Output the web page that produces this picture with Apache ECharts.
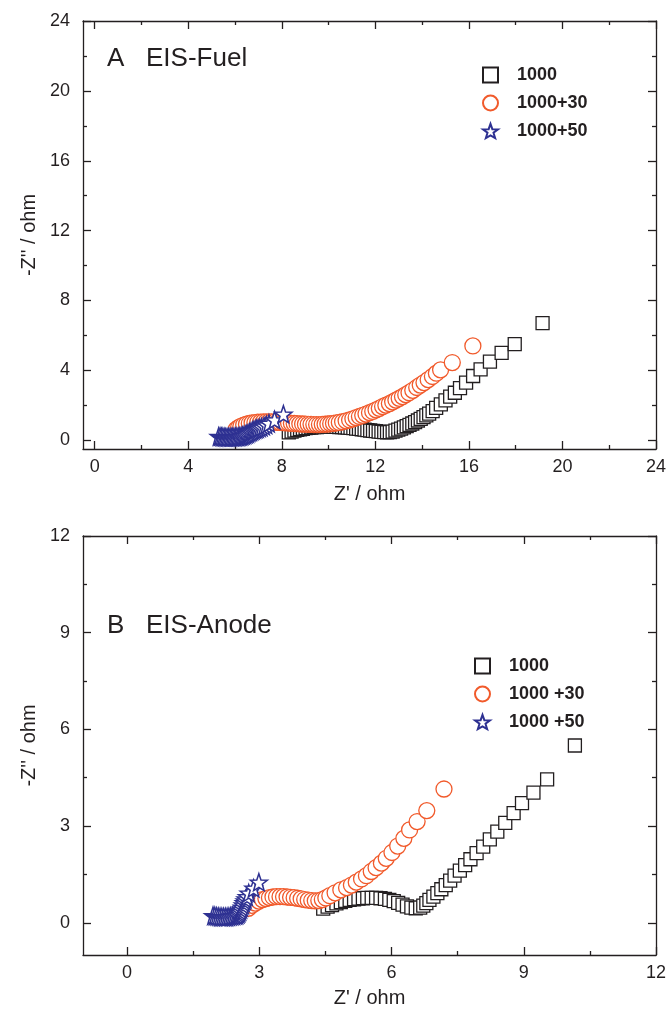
<!DOCTYPE html>
<html><head><meta charset="utf-8">
<script src="https://cdn.jsdelivr.net/npm/echarts@6/dist/echarts.min.js"></script>
<style>html,body{margin:0;padding:0;background:#fff}#c{width:669px;height:1009px}</style>
</head><body><div id="c"></div>
<script>
// ---------- DATA ----------
// Panel A: EIS-Fuel  [Z', -Z'']
const fuel_1000 = [[8.30,0.45],[8.42,0.50],[8.54,0.55],[8.66,0.59],[8.78,0.63],[8.90,0.66],[9.02,0.69],[9.14,0.71],[9.26,0.73],[9.38,0.75],[9.50,0.76],[9.62,0.77],[9.74,0.78],[9.86,0.78],[9.98,0.78],[10.10,0.78],[10.22,0.77],[10.34,0.77],[10.46,0.76],[10.58,0.75],[10.70,0.74],[10.82,0.72],[10.94,0.71],[11.06,0.69],[11.18,0.67],[11.30,0.65],[11.42,0.63],[11.54,0.61],[11.66,0.58],[11.78,0.56],[11.90,0.54],[12.02,0.52],[12.14,0.50],[12.26,0.48],[12.38,0.47],[12.50,0.46],[12.62,0.47],[12.74,0.50],[12.86,0.55],[12.98,0.61],[13.10,0.67],[13.22,0.74],[13.34,0.81],[13.46,0.88],[13.58,0.96],[13.70,1.04],[13.82,1.13],[13.94,1.22],[14.06,1.32],[14.18,1.42],[14.30,1.52],[14.45,1.67],[14.60,1.85],[14.80,2.06],[15.00,2.28],[15.20,2.50],[15.40,2.72],[15.62,2.98],[15.88,3.30],[16.18,3.68],[16.50,4.06],[16.90,4.50],[17.40,5.00],[17.96,5.50],[19.15,6.70]];
const fuel_1000_30 = [[6.05,0.62],[6.15,0.72],[6.25,0.80],[6.37,0.87],[6.49,0.92],[6.61,0.96],[6.73,0.99],[6.85,1.01],[6.97,1.03],[7.09,1.04],[7.21,1.05],[7.33,1.05],[7.45,1.05],[7.57,1.05],[7.69,1.04],[7.81,1.03],[7.93,1.02],[8.05,1.01],[8.17,1.00],[8.29,0.99],[8.41,0.97],[8.53,0.96],[8.65,0.95],[8.77,0.94],[8.89,0.93],[9.01,0.92],[9.13,0.91],[9.25,0.91],[9.37,0.90],[9.49,0.90],[9.61,0.90],[9.73,0.91],[9.85,0.92],[9.97,0.93],[10.09,0.95],[10.21,0.97],[10.33,1.00],[10.46,1.02],[10.60,1.06],[10.75,1.11],[10.90,1.16],[11.04,1.23],[11.18,1.30],[11.32,1.36],[11.46,1.43],[11.60,1.50],[11.75,1.58],[11.89,1.65],[12.03,1.74],[12.17,1.83],[12.31,1.93],[12.45,2.01],[12.60,2.10],[12.74,2.20],[12.88,2.30],[13.02,2.40],[13.16,2.50],[13.30,2.61],[13.44,2.72],[13.60,2.86],[13.77,3.02],[13.92,3.16],[14.08,3.30],[14.26,3.47],[14.44,3.65],[14.61,3.84],[14.79,4.03],[15.29,4.45],[16.17,5.40]];
const fuel_1000_50 = [[5.30,0.22],[5.36,0.21],[5.42,0.20],[5.48,0.19],[5.54,0.18],[5.60,0.17],[5.66,0.17],[5.72,0.17],[5.78,0.17],[5.84,0.17],[5.90,0.18],[5.96,0.18],[6.02,0.19],[6.08,0.20],[6.14,0.20],[6.20,0.21],[6.26,0.23],[6.32,0.25],[6.38,0.28],[6.44,0.31],[6.50,0.35],[6.56,0.39],[6.62,0.44],[6.68,0.48],[6.74,0.53],[6.80,0.57],[6.86,0.61],[6.92,0.64],[6.98,0.67],[7.06,0.71],[7.14,0.75],[7.24,0.81],[7.34,0.88],[7.45,0.97],[7.69,1.16],[8.07,1.49]];
// Panel B: EIS-Anode
const anode_1000 = [[4.45,0.44],[4.55,0.50],[4.65,0.55],[4.75,0.60],[4.85,0.64],[4.95,0.68],[5.05,0.71],[5.15,0.73],[5.25,0.75],[5.35,0.76],[5.45,0.77],[5.55,0.77],[5.65,0.77],[5.75,0.76],[5.85,0.74],[5.95,0.71],[6.05,0.67],[6.15,0.62],[6.25,0.56],[6.35,0.51],[6.45,0.47],[6.55,0.45],[6.65,0.47],[6.72,0.53],[6.79,0.61],[6.86,0.71],[6.95,0.81],[7.04,0.92],[7.13,1.04],[7.23,1.17],[7.33,1.31],[7.43,1.46],[7.55,1.62],[7.67,1.79],[7.79,1.97],[7.93,2.16],[8.08,2.36],[8.23,2.59],[8.40,2.83],[8.58,3.10],[8.77,3.40],[8.96,3.71],[9.22,4.04],[9.53,4.45],[10.16,5.50]];
const anode_1000_30 = [[2.75,0.45],[2.83,0.54],[2.91,0.61],[2.99,0.67],[3.07,0.72],[3.15,0.75],[3.23,0.78],[3.31,0.80],[3.39,0.81],[3.47,0.81],[3.55,0.81],[3.63,0.80],[3.71,0.79],[3.79,0.78],[3.87,0.76],[3.95,0.74],[4.03,0.72],[4.11,0.70],[4.19,0.69],[4.27,0.68],[4.35,0.69],[4.43,0.72],[4.51,0.77],[4.60,0.84],[4.72,0.93],[4.85,1.02],[4.98,1.09],[5.09,1.17],[5.20,1.26],[5.32,1.36],[5.43,1.46],[5.54,1.59],[5.65,1.71],[5.77,1.85],[5.88,2.00],[6.01,2.18],[6.14,2.38],[6.28,2.62],[6.41,2.88],[6.58,3.14],[6.80,3.48],[7.19,4.15]];
const anode_1000_50 = [[1.95,0.22],[1.99,0.21],[2.03,0.20],[2.07,0.19],[2.11,0.18],[2.15,0.18],[2.19,0.18],[2.23,0.18],[2.27,0.18],[2.31,0.19],[2.35,0.20],[2.39,0.21],[2.43,0.22],[2.47,0.23],[2.50,0.24],[2.53,0.27],[2.55,0.31],[2.57,0.36],[2.59,0.42],[2.61,0.48],[2.63,0.55],[2.65,0.62],[2.67,0.68],[2.69,0.74],[2.72,0.81],[2.76,0.92],[2.87,1.07],[2.99,1.26]];

const namesA = ['1000','1000+30','1000+50'];
const namesB = ['1000','1000 +30','1000 +50'];
const titleA = 'A   EIS-Fuel';
const titleB = 'B   EIS-Anode';
const xTicksA = [0,4,8,12,16,20,24], xMinorA = [2,6,10,14,18,22];
const yTicksA = [0,4,8,12,16,20,24], yMinorA = [2,6,10,14,18,22];
const xTicksB = [0,3,6,9,12], xMinorB = [1.5,4.5,7.5,10.5];
const yTicksB = [0,3,6,9,12], yMinorB = [1.5,4.5,7.5,10.5];

// ---------- STYLE ----------
const FONT = 'Liberation Sans, Arial, sans-serif';
const INK = '#231f20';
const C_BLACK = '#231f20', C_ORANGE = '#f15a2b', C_BLUE = '#2e3192';
const STAR = 'path://M0,-10L2.35,-3.24L9.51,-3.09L3.8,1.24L5.88,8.09L0,4.5L-5.88,8.09L-3.8,1.24L-9.51,-3.09L-2.35,-3.24Z';

function axisSet(dim, grid, min, max, majors, minors, nameTxt, nameGap) {
  const pos = dim === 'x' ? ['bottom','top'] : ['left','right'];
  const line = {color: INK, width: 1.3};
  const base = (p, showLine, ticks, len, labels) => ({
    type: 'value', gridIndex: grid, min, max, position: p,
    axisLine: {show: showLine, onZero: false, lineStyle: line},
    axisTick: {show: true, inside: true, length: len, customValues: ticks, lineStyle: line},
    minorTick: {show: false},
    splitLine: {show: false},
    axisLabel: labels ? {show: true, customValues: majors, fontFamily: FONT, fontSize: 18, color: INK, margin: dim === 'x' ? 9 : 13} : {show: false},
    axisPointer: {show: false}
  });
  const main = base(pos[0], true, majors, 8, true);
  main.name = nameTxt; main.nameLocation = 'middle'; main.nameGap = nameGap;
  main.nameTextStyle = {fontFamily: FONT, fontSize: 20, color: INK};
  return [main, base(pos[0], false, minors, 4, false), base(pos[1], true, majors, 8, false), base(pos[1], false, minors, 4, false)];
}

function mk(name, data, xi, yi, symbol, size, color, bw) {
  return {type: 'scatter', name, data, xAxisIndex: xi, yAxisIndex: yi, symbol, symbolSize: size,
    itemStyle: {color: '#ffffff', borderColor: color, borderWidth: bw, opacity: 1},
    emphasis: {disabled: true}, animation: false};
}

const xAxes = [].concat(axisSet('x', 0, -0.5, 24, xTicksA, xMinorA, "Z' / ohm", 35), axisSet('x', 1, -1, 12, xTicksB, xMinorB, "Z' / ohm", 33));
const yAxes = [].concat(axisSet('y', 0, -0.5, 24, yTicksA, yMinorA, "-Z'' / ohm", 41), axisSet('y', 1, -1, 12, yTicksB, yMinorB, "-Z'' / ohm", 41));

const legendText = {fontFamily: FONT, fontSize: 18, fontWeight: 'bold', color: INK, padding: [0,0,0,14]};
const titleStyle = {fontFamily: FONT, fontSize: 26, fontWeight: 'normal', color: INK};
const option = {
  animation: false,
  backgroundColor: '#ffffff',
  title: [
    {text: titleA, left: 107, top: 46, padding: 0, textStyle: titleStyle},
    {text: titleB, left: 107, top: 613, padding: 0, textStyle: titleStyle}
  ],
  grid: [
    {left: 83, top: 21, right: 9, bottom: 560, containLabel: false},
    {left: 83, top: 536, right: 9, bottom: 54, containLabel: false}
  ],
  legend: [
    {data: namesA, orient: 'vertical', left: 482, top: 66, itemWidth: 15, itemHeight: 15, itemGap: 10, selectedMode: false, padding: 0, textStyle: legendText},
    {data: namesB, orient: 'vertical', left: 474, top: 657, itemWidth: 15, itemHeight: 15, itemGap: 10, selectedMode: false, padding: 0, textStyle: legendText}
  ],
  xAxis: xAxes,
  yAxis: yAxes,
  series: [
    mk(namesA[0], fuel_1000, 0, 0, 'rect', 13, C_BLACK, 1.3),
    mk(namesA[1], fuel_1000_30, 0, 0, 'circle', 16, C_ORANGE, 1.3),
    mk(namesA[2], fuel_1000_50, 0, 0, STAR, 17, C_BLUE, 1.5),
    mk(namesB[0], anode_1000, 4, 4, 'rect', 13, C_BLACK, 1.3),
    mk(namesB[1], anode_1000_30, 4, 4, 'circle', 16, C_ORANGE, 1.3),
    mk(namesB[2], anode_1000_50, 4, 4, STAR, 17, C_BLUE, 1.5)
  ]
};
const chart = echarts.init(document.getElementById('c'), null, {renderer: 'canvas'});
chart.setOption(option);
</script></body></html>
